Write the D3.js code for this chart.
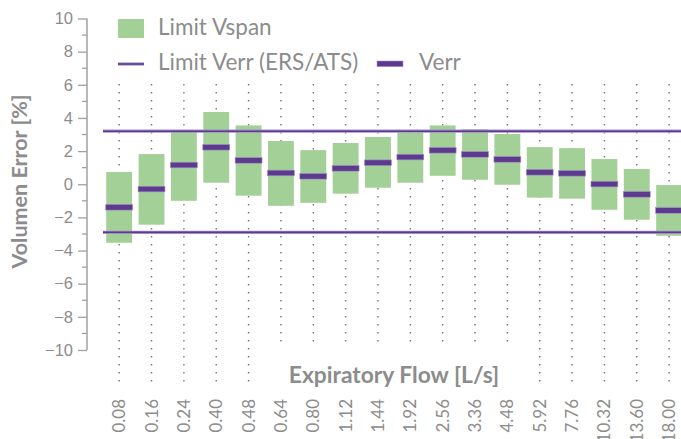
<!DOCTYPE html>
<html>
<head>
<meta charset="utf-8">
<script src="https://cdn.jsdelivr.net/npm/d3@7"></script>
<style>
  body { margin: 0; background: #fff; }
  svg { display: block; font-family: Lato, "Open Sans", sans-serif; }
</style>
</head>
<body>
<svg id="chart" width="681" height="439"></svg>
<script>
// === Données ===
const flows = ["0.08", "0.16", "0.24", "0.40", "0.48", "0.64", "0.80", "1.12", "1.44",
  "1.92", "2.56", "3.36", "4.48", "5.92", "7.76", "10.32", "13.60", "18.00"];
const spanHigh = [0.74, 1.82, 3.27, 4.36, 3.55, 2.61, 2.06, 2.49, 2.85,
  3.13, 3.55, 3.32, 3.03, 2.24, 2.18, 1.52, 0.92, -0.05];
const spanLow = [-3.53, -2.44, -1.0, 0.09, -0.69, -1.30, -1.12, -0.57, -0.21,
  0.09, 0.51, 0.27, -0.03, -0.81, -0.87, -1.54, -2.14, -3.11];
const verr = [-1.39, -0.29, 1.16, 2.23, 1.44, 0.68, 0.48, 0.96, 1.30,
  1.64, 2.05, 1.80, 1.50, 0.72, 0.66, 0.01, -0.61, -1.58];
const limitVerr = [3.2, -2.9];
const yTicks = d3.range(-10, 11, 2);

const GREEN = "#a3d096";
const PURPLE = "#5c3a8d";
const PURPLE_LIGHT = "#a48ccb";
const GRIS = "#8c8c8c";

const svg = d3.select('#chart');

// === Echelles ===
const x = d3.scaleBand().domain(flows).range([103, 685.3]).paddingInner(0.2).paddingOuter(0.1);
const y = d3.scaleLinear().domain([-10, 10]).range([350, 18.5]);
const axeX = 87;

// grille pointillée verticale
svg.append('g')
  .selectAll('line')
  .data(flows)
  .enter().append('line')
  .attr('x1', d => x(d) + x.bandwidth() / 2)
  .attr('x2', d => x(d) + x.bandwidth() / 2)
  .attr('y1', 84)
  .attr('y2', 384)
  .attr('stroke', '#777')
  .attr('stroke-width', 1.4)
  .attr('stroke-dasharray', '1.4,6.6');

// cache blanc derrière le titre X
svg.append('rect')
  .attr('x', 272).attr('y', 346).attr('width', 250).attr('height', 50)
  .attr('fill', '#fff');

// === Barres Vspan ===
svg.append('g')
  .selectAll('rect')
  .data(flows)
  .enter().append('rect')
  .attr('x', d => x(d))
  .attr('width', x.bandwidth())
  .attr('y', (d, i) => y(spanHigh[i]))
  .attr('height', (d, i) => y(spanLow[i]) - y(spanHigh[i]))
  .attr('fill', GREEN);

// === Limites ERS/ATS ===
const limites = svg.append('g');
limites.selectAll('line.bg')
  .data(limitVerr)
  .enter().append('line')
  .attr('class', 'bg')
  .attr('x1', x.range()[0]).attr('x2', 681)
  .attr('y1', d => y(d)).attr('y2', d => y(d))
  .attr('stroke', PURPLE_LIGHT).attr('stroke-width', 3.2);
limites.selectAll('line.fg')
  .data(limitVerr)
  .enter().append('line')
  .attr('class', 'fg')
  .attr('x1', x.range()[0]).attr('x2', 681)
  .attr('y1', d => y(d)).attr('y2', d => y(d))
  .attr('stroke', PURPLE).attr('stroke-width', 1.6);

// === Verr ===
svg.append('g')
  .selectAll('rect')
  .data(flows)
  .enter().append('rect')
  .attr('x', d => x(d) - 0.5)
  .attr('width', x.bandwidth() + 1)
  .attr('y', (d, i) => y(verr[i]) - 2.8)
  .attr('height', 5.6)
  .attr('fill', PURPLE)
  .attr('stroke', PURPLE_LIGHT)
  .attr('stroke-width', 0.6);

// === Axe Y ===
const axeY = svg.append('g')
  .attr('transform', `translate(${axeX},0)`)
  .call(d3.axisLeft(y).tickValues(yTicks).tickSize(9).tickPadding(5)
    .tickFormat(d => d < 0 ? '\u2212' + Math.abs(d) : d));
axeY.select('.domain').attr('stroke', '#a0a0a0').attr('stroke-width', 1.5).attr('d', `M0,${y(10)}V${y(-10)}`);
axeY.selectAll('.tick line').attr('stroke', '#a0a0a0').attr('stroke-width', 1.3);
axeY.selectAll('.tick text').attr('fill', GRIS).style('font-size', '16.5px');

// ticks mineurs
axeY.append('g')
  .selectAll('line')
  .data(d3.range(-9, 10, 2))
  .enter().append('line')
  .attr('x1', -5).attr('x2', 0)
  .attr('y1', d => y(d)).attr('y2', d => y(d))
  .attr('stroke', '#a0a0a0').attr('stroke-width', 1.3);

// titres des axes
svg.append('text')
  .attr('transform', `translate(26.5,181.5) rotate(-90)`)
  .attr('text-anchor', 'middle')
  .attr('fill', GRIS)
  .style('font-size', '21.5px').style('font-weight', 'bold')
  .text('Volumen Error [%]');

svg.append('text')
  .attr('x', 394).attr('y', 383)
  .attr('text-anchor', 'middle')
  .attr('fill', GRIS)
  .style('font-size', '22.8px').style('font-weight', 'bold')
  .text('Expiratory Flow [L/s]');

// étiquettes X (pivotées)
svg.append('g')
  .selectAll('text')
  .data(flows)
  .enter().append('text')
  .attr('transform', d => `translate(${x(d) + x.bandwidth() / 2 + 6},399) rotate(-90)`)
  .attr('text-anchor', 'end')
  .attr('fill', GRIS)
  .style('font-size', '17px')
  .text(d => d);

// === Légende ===
const legende = svg.append('g');
legende.append('rect')
  .attr('x', 118).attr('y', 19).attr('width', 26).attr('height', 19)
  .attr('fill', GREEN);
legende.append('text')
  .attr('x', 158).attr('y', 35).attr('fill', GRIS).style('font-size', '22.5px')
  .text('Limit Vspan');

legende.append('line')
  .attr('x1', 118).attr('x2', 144).attr('y1', 64).attr('y2', 64)
  .attr('stroke', PURPLE_LIGHT).attr('stroke-width', 3.2);
legende.append('line')
  .attr('x1', 118).attr('x2', 144).attr('y1', 64).attr('y2', 64)
  .attr('stroke', PURPLE).attr('stroke-width', 1.6);
legende.append('text')
  .attr('x', 158).attr('y', 70).attr('fill', GRIS).style('font-size', '22.5px')
  .text('Limit Verr (ERS/ATS)');

legende.append('rect')
  .attr('x', 377).attr('y', 61).attr('width', 26).attr('height', 5.6)
  .attr('fill', PURPLE).attr('stroke', PURPLE_LIGHT).attr('stroke-width', 0.6);
legende.append('text')
  .attr('x', 419).attr('y', 70).attr('fill', GRIS).style('font-size', '22.5px')
  .text('Verr');
</script>
</body>
</html>
